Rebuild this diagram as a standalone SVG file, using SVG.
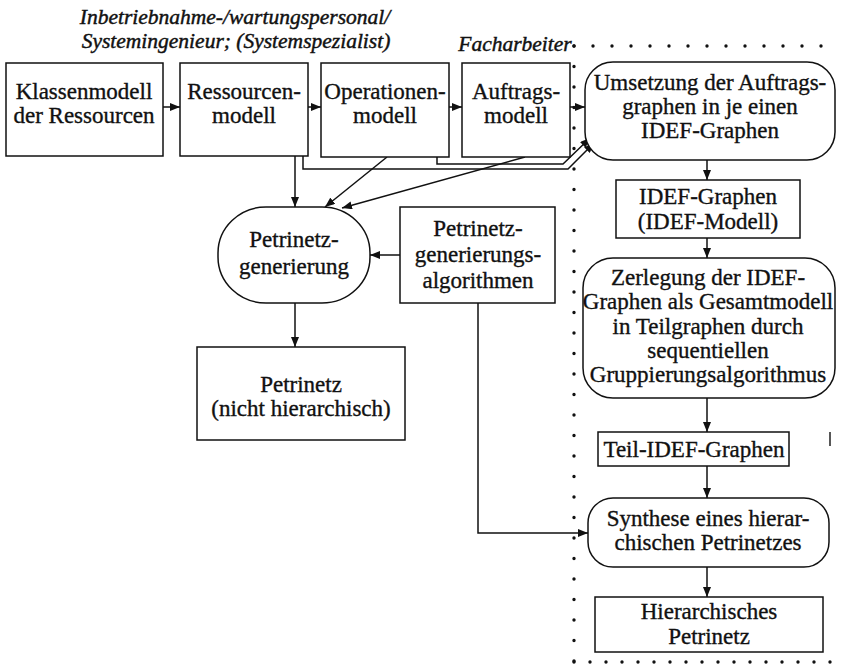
<svg xmlns="http://www.w3.org/2000/svg" width="841" height="670" viewBox="0 0 841 670" font-family="'Liberation Serif', 'Times New Roman', serif">
  <style>
    .box { fill: #fff; stroke: #111; stroke-width: 1.5; }
    .lbl { font-family: 'Liberation Serif', 'Times New Roman', serif; font-size: 23px; fill: #111; stroke: #111; stroke-width: 0.35; text-anchor: middle; }
    .role { font-family: 'Liberation Serif', 'Times New Roman', serif; font-size: 21.5px; font-style: italic; fill: #111; stroke: #111; stroke-width: 0.45; text-anchor: middle; }
    .edge { fill: none; stroke: #111; stroke-width: 1.5; }
    .dots { fill: none; stroke: #111; stroke-width: 3.4; stroke-linecap: round; }
  </style>
  <defs>
    <marker id="arrow" viewBox="0 0 10 8" refX="10" refY="4" markerWidth="10" markerHeight="8" markerUnits="userSpaceOnUse" orient="auto">
      <path d="M0,0 L10,4 L0,8 z" fill="#111"/>
    </marker>
  </defs>

  <rect width="841" height="670" fill="#fff"/>

  <!-- role labels -->
  <g id="roles">
    <text class="role" x="235" y="24">Inbetriebnahme-/wartungspersonal/</text>
    <text class="role" x="236" y="48">Systemingenieur; (Systemspezialist)</text>
    <text class="role" x="515" y="51">Facharbeiter</text>
  </g>

  <!-- dotted boundary of the Facharbeiter area -->
  <g id="boundary">
    <path class="dots" d="M574,46 H840" stroke-dasharray="0 19"/>
    <path class="dots" d="M574,46 V662" stroke-dasharray="0 20.5"/>
    <path class="dots" d="M574,662 H840" stroke-dasharray="0 16"/>
    <path d="M830,432 V446" stroke="#111" stroke-width="1.4"/>
  </g>

  <!-- connectors -->
  <g id="connectors">
    <path class="edge" d="M163,107 H180" marker-end="url(#arrow)"/>
    <path class="edge" d="M308,107 H321" marker-end="url(#arrow)"/>
    <path class="edge" d="M449,107 H462" marker-end="url(#arrow)"/>
    <path class="edge" d="M570,107 H585" marker-end="url(#arrow)"/>
    <!-- models feeding the IDEF conversion -->
    <path class="edge" d="M303,156 V169 H568 L594,143" marker-end="url(#arrow)"/>
    <path class="edge" d="M437,157 V164 H563 L590,138" marker-end="url(#arrow)"/>
    <!-- models feeding the Petri net generation -->
    <path class="edge" d="M295,156 V207" marker-end="url(#arrow)"/>
    <path class="edge" d="M387,157 L325,207" marker-end="url(#arrow)"/>
    <path class="edge" d="M525,157 L342,208" marker-end="url(#arrow)"/>
    <path class="edge" d="M400,255 H370" marker-end="url(#arrow)"/>
    <path class="edge" d="M295,303 V347" marker-end="url(#arrow)"/>
    <path class="edge" d="M478,303 V533 H588" marker-end="url(#arrow)"/>
    <!-- right column chain -->
    <path class="edge" d="M707,160 V180" marker-end="url(#arrow)"/>
    <path class="edge" d="M707,238 V258" marker-end="url(#arrow)"/>
    <path class="edge" d="M707,398 V432" marker-end="url(#arrow)"/>
    <path class="edge" d="M707,466 V498" marker-end="url(#arrow)"/>
    <path class="edge" d="M707,567 V597" marker-end="url(#arrow)"/>
  </g>

  <g id="klassenmodell">
    <rect class="box" x="6" y="63" width="157" height="93"/>
    <text class="lbl" x="84" y="99">Klassenmodell</text>
    <text class="lbl" x="84" y="123">der Ressourcen</text>
  </g>

  <g id="ressourcenmodell">
    <rect class="box" x="180" y="63" width="128" height="93"/>
    <text class="lbl" x="244" y="99">Ressourcen-</text>
    <text class="lbl" x="244" y="123">modell</text>
  </g>

  <g id="operationenmodell">
    <rect class="box" x="321" y="63" width="128" height="94"/>
    <text class="lbl" x="385" y="99">Operationen-</text>
    <text class="lbl" x="385" y="123">modell</text>
  </g>

  <g id="auftragsmodell">
    <rect class="box" x="462" y="63" width="108" height="94"/>
    <text class="lbl" x="516" y="99">Auftrags-</text>
    <text class="lbl" x="516" y="123">modell</text>
  </g>

  <g id="umsetzung">
    <rect class="box" x="585" y="62" width="250" height="98" rx="28"/>
    <text class="lbl" x="710" y="90">Umsetzung der Auftrags-</text>
    <text class="lbl" x="710" y="114">graphen in je einen</text>
    <text class="lbl" x="710" y="138">IDEF-Graphen</text>
  </g>

  <g id="petrinetzgenerierung">
    <rect class="box" x="218" y="207" width="152" height="96" rx="48" ry="46"/>
    <text class="lbl" x="294" y="247">Petrinetz-</text>
    <text class="lbl" x="294" y="274">generierung</text>
  </g>

  <g id="algorithmen">
    <rect class="box" x="400" y="207" width="155" height="96"/>
    <text class="lbl" x="478" y="236">Petrinetz-</text>
    <text class="lbl" x="478" y="262">generierungs-</text>
    <text class="lbl" x="478" y="288">algorithmen</text>
  </g>

  <g id="petrinetz">
    <rect class="box" x="197" y="347" width="208" height="93"/>
    <text class="lbl" x="301" y="392">Petrinetz</text>
    <text class="lbl" x="301" y="416">(nicht hierarchisch)</text>
  </g>

  <g id="idef-graphen">
    <rect class="box" x="616" y="180" width="184" height="58"/>
    <text class="lbl" x="708" y="204">IDEF-Graphen</text>
    <text class="lbl" x="708" y="229">(IDEF-Modell)</text>
  </g>

  <g id="zerlegung">
    <rect class="box" x="583" y="258" width="252" height="140" rx="30"/>
    <text class="lbl" x="708" y="285">Zerlegung der IDEF-</text>
    <text class="lbl" x="708" y="309">Graphen als Gesamtmodell</text>
    <text class="lbl" x="708" y="334">in Teilgraphen durch</text>
    <text class="lbl" x="708" y="358">sequentiellen</text>
    <text class="lbl" x="708" y="382">Gruppierungsalgorithmus</text>
  </g>

  <g id="teil-idef-graphen">
    <rect class="box" x="598" y="432" width="191" height="34"/>
    <text class="lbl" x="694" y="457">Teil-IDEF-Graphen</text>
  </g>

  <g id="synthese">
    <rect class="box" x="588" y="498" width="241" height="69" rx="25"/>
    <text class="lbl" x="708" y="526">Synthese eines hierar-</text>
    <text class="lbl" x="708" y="550">chischen Petrinetzes</text>
  </g>

  <g id="hierarchisches-petrinetz">
    <rect class="box" x="595" y="597" width="228" height="55"/>
    <text class="lbl" x="709" y="619">Hierarchisches</text>
    <text class="lbl" x="709" y="644">Petrinetz</text>
  </g>
</svg>
